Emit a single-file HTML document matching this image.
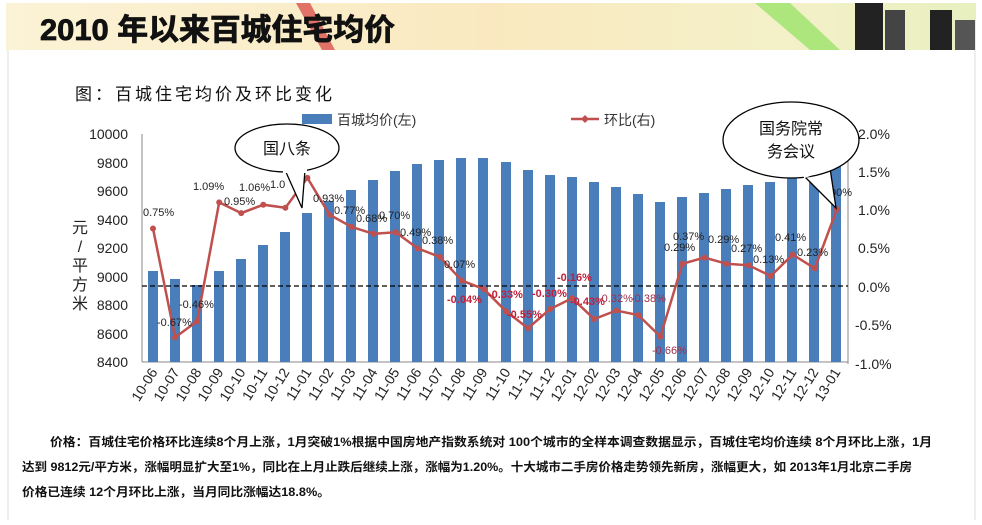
<!DOCTYPE html>
<html><head><meta charset="utf-8"><style>
body{margin:0;background:#fff;width:982px;height:520px;overflow:hidden;font-family:"Liberation Sans","Noto Sans CJK SC",sans-serif}
</style></head><body>
<svg width="982" height="520" xmlns="http://www.w3.org/2000/svg" font-family="Liberation Sans, Noto Sans CJK SC, sans-serif">
<defs><linearGradient id="bg" x1="0" x2="1"><stop offset="0" stop-color="#fbf3d6"/><stop offset="0.5" stop-color="#fae9c0"/><stop offset="0.8" stop-color="#f4f0c8"/><stop offset="1" stop-color="#e8f0c0"/></linearGradient></defs>
<rect x="6" y="3" width="970" height="47" fill="url(#bg)"/>
<polygon points="296,3 310,3 335,50 322,50" fill="#d9534f" opacity="0.8"/>
<polygon points="755,3 790,3 840,50 810,50" fill="#9be36a" opacity="0.8"/>
<rect x="855" y="3" width="28" height="47" fill="#222"/><rect x="885" y="10" width="20" height="40" fill="#444"/><rect x="930" y="10" width="22" height="40" fill="#222"/><rect x="955" y="20" width="20" height="30" fill="#555"/>
<text x="40" y="40" font-size="30" font-weight="bold" fill="#111" textLength="355" lengthAdjust="spacingAndGlyphs" stroke="#111" stroke-width="0.8">2010 年以来百城住宅均价</text>
<line x1="8" y1="50" x2="8" y2="520" stroke="#ddd"/><line x1="975" y1="50" x2="975" y2="520" stroke="#ddd"/>
<text x="75" y="100" font-size="17" fill="#111" letter-spacing="3">图：百城住宅均价及环比变化</text>
<rect x="302" y="114" width="30" height="10" fill="#4a7ebb"/><text x="337" y="125" font-size="14" fill="#333">百城均价(左)</text>
<line x1="571" y1="119" x2="599" y2="119" stroke="#c0504d" stroke-width="2.5"/><polygon points="585,115 589,119 585,123 581,119" fill="#c0504d"/><text x="604" y="125" font-size="14" fill="#333">环比(右)</text>
<line x1="142" y1="134" x2="142" y2="362" stroke="#888"/><line x1="848" y1="134" x2="848" y2="364" stroke="#888"/><line x1="142" y1="362" x2="848" y2="362" stroke="#888"/>
<g font-size="14" fill="#222" text-anchor="end">
<text x="128" y="139">10000</text><text x="128" y="168">9800</text><text x="128" y="196">9600</text><text x="128" y="225">9400</text><text x="128" y="253">9200</text><text x="128" y="282">9000</text><text x="128" y="310">8800</text><text x="128" y="339">8600</text><text x="128" y="367">8400</text></g>
<g font-size="14" fill="#222">
<text x="858" y="139">2.0%</text><text x="858" y="177">1.5%</text><text x="858" y="215">1.0%</text><text x="858" y="253">0.5%</text><text x="858" y="292">0.0%</text><text x="855" y="330">-0.5%</text><text x="855" y="369">-1.0%</text></g>
<g font-size="16" fill="#222" text-anchor="middle"><text x="80" y="233">元</text><text x="80" y="252">/</text><text x="80" y="271">平</text><text x="80" y="290">方</text><text x="80" y="309">米</text></g>
<g fill="#4a7ebb">
<rect x="148" y="271" width="10" height="91"/><rect x="170" y="279" width="10" height="83"/><rect x="192" y="285" width="10" height="77"/><rect x="214" y="271" width="10" height="91"/><rect x="236" y="259" width="10" height="103"/><rect x="258" y="245" width="10" height="117"/><rect x="280" y="232" width="10" height="130"/><rect x="302" y="213" width="10" height="149"/><rect x="324" y="201" width="10" height="161"/><rect x="346" y="190" width="10" height="172"/><rect x="368" y="180" width="10" height="182"/><rect x="390" y="171" width="10" height="191"/><rect x="412" y="164" width="10" height="198"/><rect x="434" y="160" width="10" height="202"/><rect x="456" y="158" width="10" height="204"/><rect x="478" y="158" width="10" height="204"/><rect x="501" y="162" width="10" height="200"/><rect x="523" y="170" width="10" height="192"/><rect x="545" y="175" width="10" height="187"/><rect x="567" y="177" width="10" height="185"/><rect x="589" y="182" width="10" height="180"/><rect x="611" y="187" width="10" height="175"/><rect x="633" y="194" width="10" height="168"/><rect x="655" y="202" width="10" height="160"/><rect x="677" y="197" width="10" height="165"/><rect x="699" y="193" width="10" height="169"/><rect x="721" y="189" width="10" height="173"/><rect x="743" y="185" width="10" height="177"/><rect x="765" y="182" width="10" height="180"/><rect x="787" y="178" width="10" height="184"/><rect x="809" y="176" width="10" height="186"/><rect x="831" y="158" width="10" height="204"/>
</g>
<line x1="142" y1="286" x2="848" y2="286" stroke="#000" stroke-width="1.3" stroke-dasharray="5,3"/>
<polyline fill="none" stroke="#c0504d" stroke-width="2.5" points="153,228.5 175.1,337.4 197.1,321.3 219.2,202.4 241.2,213.1 263.3,204.7 285.4,207.8 307.4,177.9 329.5,214.7 351.5,226.9 373.6,233.8 395.7,232.3 417.7,248.4 439.8,256.9 461.8,280.6 483.9,289.1 506,311.3 528,328.2 550.1,309 572.1,298.3 594.2,319 616.3,310.5 638.3,315.1 660.4,336.6 682.4,263.8 704.5,257.6 726.6,263.8 748.6,265.3 770.7,276 792.7,254.6 814.8,268.4 836.9,209.3"/>
<g fill="#c0504d">
<circle cx="153" cy="228.5" r="3"/><circle cx="175.1" cy="337.4" r="3"/><circle cx="197.1" cy="321.3" r="3"/><circle cx="219.2" cy="202.4" r="3"/><circle cx="241.2" cy="213.1" r="3"/><circle cx="263.3" cy="204.7" r="3"/><circle cx="285.4" cy="207.8" r="3"/><circle cx="307.4" cy="177.9" r="3"/><circle cx="329.5" cy="214.7" r="3"/><circle cx="351.5" cy="226.9" r="3"/><circle cx="373.6" cy="233.8" r="3"/><circle cx="395.7" cy="232.3" r="3"/><circle cx="417.7" cy="248.4" r="3"/><circle cx="439.8" cy="256.9" r="3"/><circle cx="461.8" cy="280.6" r="3"/><circle cx="483.9" cy="289.1" r="3"/><circle cx="506" cy="311.3" r="3"/><circle cx="528" cy="328.2" r="3"/><circle cx="550.1" cy="309" r="3"/><circle cx="572.1" cy="298.3" r="3"/><circle cx="594.2" cy="319" r="3"/><circle cx="616.3" cy="310.5" r="3"/><circle cx="638.3" cy="315.1" r="3"/><circle cx="660.4" cy="336.6" r="3"/><circle cx="682.4" cy="263.8" r="3"/><circle cx="704.5" cy="257.6" r="3"/><circle cx="726.6" cy="263.8" r="3"/><circle cx="748.6" cy="265.3" r="3"/><circle cx="770.7" cy="276" r="3"/><circle cx="792.7" cy="254.6" r="3"/><circle cx="814.8" cy="268.4" r="3"/><circle cx="836.9" cy="209.3" r="3"/></g>
<g font-size="11" fill="#222">
<text x="143" y="216">0.75%</text><text x="157" y="326">-0.67%</text><text x="179" y="308">-0.46%</text><text x="193" y="190">1.09%</text><text x="224" y="205">0.95%</text><text x="239" y="191">1.06%</text><text x="270" y="188">1.0</text><text x="313" y="202">0.93%</text><text x="334" y="214">0.77%</text><text x="356" y="222">0.68%</text><text x="379" y="219">0.70%</text><text x="400" y="236">0.49%</text><text x="422" y="244">0.38%</text><text x="444" y="268">0.07%</text>
<text x="664" y="251">0.29%</text><text x="673" y="240">0.37%</text><text x="708" y="243">0.29%</text><text x="731" y="252">0.27%</text><text x="753" y="263">0.13%</text><text x="775" y="241">0.41%</text><text x="797" y="256">0.23%</text><text x="830" y="196">00%</text></g>
<g font-size="11" fill="#c0203a" font-weight="bold">
<text x="447" y="303">-0.04%</text><text x="488" y="298">-0.33%</text><text x="507" y="318">-0.55%</text><text x="532" y="297">-0.30%</text><text x="557" y="281">-0.16%</text><text x="570" y="305">-0.43%</text></g>
<g font-size="11" fill="#a0304a"><text x="598" y="302">-0.32%</text><text x="631" y="302">-0.38%</text><text x="652" y="354">-0.66%</text></g>
<g font-size="14" fill="#222" text-anchor="end">
<text transform="translate(158,372) rotate(-58)">10-06</text><text transform="translate(180,372) rotate(-58)">10-07</text><text transform="translate(202,372) rotate(-58)">10-08</text><text transform="translate(224,372) rotate(-58)">10-09</text><text transform="translate(246,372) rotate(-58)">10-10</text><text transform="translate(268,372) rotate(-58)">10-11</text><text transform="translate(290,372) rotate(-58)">10-12</text><text transform="translate(312,372) rotate(-58)">11-01</text><text transform="translate(334,372) rotate(-58)">11-02</text><text transform="translate(356,372) rotate(-58)">11-03</text><text transform="translate(378,372) rotate(-58)">11-04</text><text transform="translate(400,372) rotate(-58)">11-05</text><text transform="translate(422,372) rotate(-58)">11-06</text><text transform="translate(444,372) rotate(-58)">11-07</text><text transform="translate(466,372) rotate(-58)">11-08</text><text transform="translate(488,372) rotate(-58)">11-09</text><text transform="translate(511,372) rotate(-58)">11-10</text><text transform="translate(533,372) rotate(-58)">11-11</text><text transform="translate(555,372) rotate(-58)">11-12</text><text transform="translate(577,372) rotate(-58)">12-01</text><text transform="translate(599,372) rotate(-58)">12-02</text><text transform="translate(621,372) rotate(-58)">12-03</text><text transform="translate(643,372) rotate(-58)">12-04</text><text transform="translate(665,372) rotate(-58)">12-05</text><text transform="translate(687,372) rotate(-58)">12-06</text><text transform="translate(709,372) rotate(-58)">12-07</text><text transform="translate(731,372) rotate(-58)">12-08</text><text transform="translate(753,372) rotate(-58)">12-09</text><text transform="translate(775,372) rotate(-58)">12-10</text><text transform="translate(797,372) rotate(-58)">12-11</text><text transform="translate(819,372) rotate(-58)">12-12</text><text transform="translate(841,372) rotate(-58)">13-01</text></g>
<path d="M285,170 L302,208 L305,170" fill="#fff" stroke="#000" stroke-width="1.3"/>
<ellipse cx="287" cy="148" rx="52" ry="24" fill="#fff" stroke="#000" stroke-width="1.3"/>
<rect x="283" y="168" width="24" height="5" fill="#fff"/>
<text x="287" y="154" font-size="16" text-anchor="middle" fill="#111">国八条</text>
<path d="M800,172 L836,208 L830,168" fill="#fff" stroke="#000" stroke-width="1.3"/>
<ellipse cx="791" cy="140" rx="68" ry="38" fill="#fff" stroke="#000" stroke-width="1.3"/>
<rect x="802" y="166" width="26" height="8" fill="#fff" transform="rotate(-20 815 170)"/>
<text x="791" y="134" font-size="16" text-anchor="middle" fill="#111">国务院常</text>
<text x="791" y="157" font-size="16" text-anchor="middle" fill="#111">务会议</text>
<g font-size="12" fill="#111" font-weight="bold">
<text x="50" y="446" textLength="882" lengthAdjust="spacingAndGlyphs">价格：百城住宅价格环比连续8个月上涨，1月突破1%根据中国房地产指数系统对 100个城市的全样本调查数据显示，百城住宅均价连续 8个月环比上涨，1月</text>
<text x="22" y="471" textLength="890" lengthAdjust="spacingAndGlyphs">达到 9812元/平方米，涨幅明显扩大至1%，同比在上月止跌后继续上涨，涨幅为1.20%。十大城市二手房价格走势领先新房，涨幅更大，如 2013年1月北京二手房</text>
<text x="22" y="496" textLength="308" lengthAdjust="spacingAndGlyphs">价格已连续 12个月环比上涨，当月同比涨幅达18.8%。</text></g>
</svg>
</body></html>
